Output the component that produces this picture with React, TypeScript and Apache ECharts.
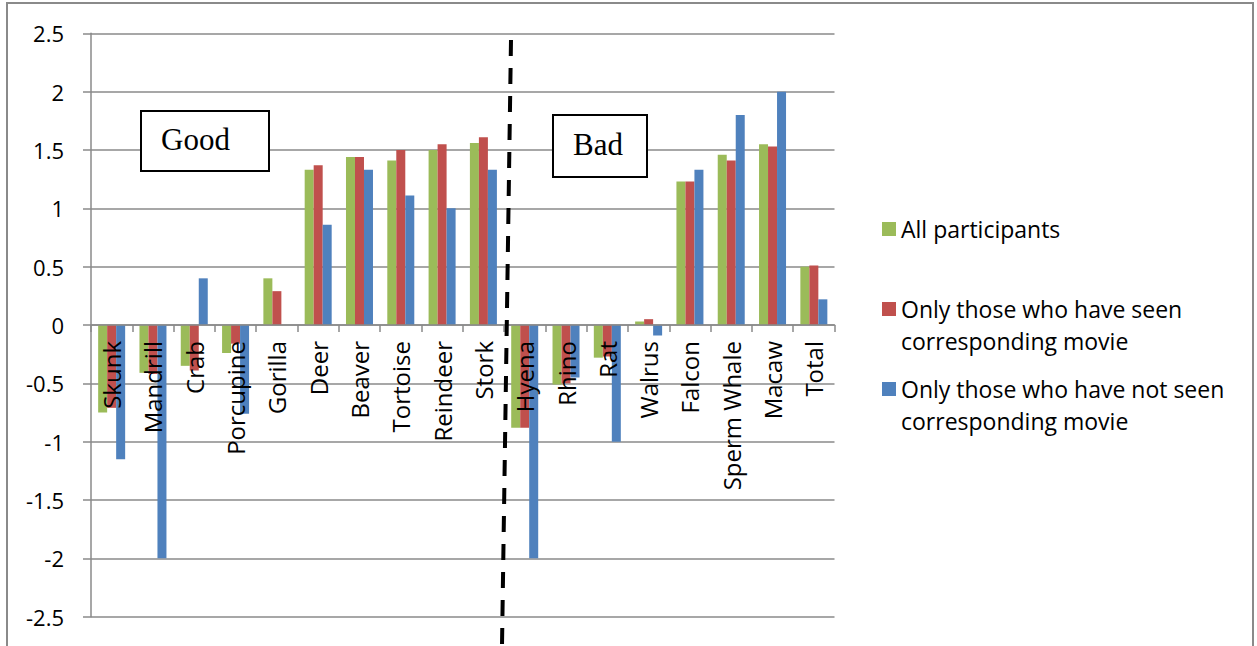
import React, { useEffect, useRef } from "react";
import * as echarts from "echarts";

// Categories along the x axis (animals, then the overall total)
const categories = [
  "Skunk", "Mandrill", "Crab", "Porcupine", "Gorilla", "Deer", "Beaver", "Tortoise",
  "Reindeer", "Stork", "Hyena", "Rhino", "Rat", "Walrus", "Falcon", "Sperm Whale",
  "Macaw", "Total",
];

const seriesNames = [
  "All participants",
  "Only those who have seen corresponding movie",
  "Only those who have not seen corresponding movie",
];

const allParticipants = [
  -0.75, -0.41, -0.35, -0.24, 0.4, 1.33, 1.44, 1.41, 1.5, 1.56,
  -0.88, -0.51, -0.28, 0.03, 1.23, 1.46, 1.55, 0.5,
];
const seenMovie = [
  -0.71, -0.42, -0.39, -0.16, 0.29, 1.37, 1.44, 1.5, 1.55, 1.61,
  -0.88, -0.5, -0.27, 0.05, 1.23, 1.41, 1.53, 0.51,
];
const notSeenMovie = [
  -1.15, -2.0, 0.4, -0.76, 0, 0.86, 1.33, 1.11, 1.0, 1.33,
  -2.0, -0.45, -1.0, -0.09, 1.33, 1.8, 2.0, 0.22,
];

// y range of the value axis
const yMin = -2.5;
const yMax = 2.5;
const yStep = 0.5;

const colors = ["#9BBB59", "#C0504D", "#4F81BD"];
const gray = "#8a8a8a";
const sans = '"Open Sans", "Noto Sans", sans-serif';
const serif = '"Liberation Serif", "DejaVu Serif", serif';

const W = 1257;
const H = 646;
const gridTop = 33.3;
const gridBottom = 29.3;

// Two-line legend entries: an empty first line keeps the marker beside the first text line
const legendText = (name: string) =>
  name.includes(" corresponding")
    ? " \n" + name.replace(" corresponding", "\ncorresponding")
    : name;

function makeLegend(name: string, top: number) {
  return {
    data: [{ name, icon: "rect" }],
    left: 882,
    top,
    padding: 0,
    itemWidth: 14,
    itemHeight: 14,
    selectedMode: false,
    formatter: legendText,
    textStyle: {
      fontFamily: sans,
      fontSize: 23,
      lineHeight: 32,
      color: "#000",
    },
  };
}

export default function App() {
  const ref = useRef<HTMLDivElement>(null);

  useEffect(() => {
    if (!ref.current) return;
    const chart = echarts.init(ref.current, undefined, { renderer: "svg" });
    const values = [allParticipants, seenMovie, notSeenMovie];

    // Category axis sits on the zero line: shift it up from the grid's bottom edge
    const plotHeight = H - gridTop - gridBottom;
    const zeroOffset = -plotHeight * ((0 - yMin) / (yMax - yMin));

    chart.setOption({
      animation: false,
      backgroundColor: "#fff",
      grid: {
        left: 91,
        right: 422.5,
        top: gridTop,
        bottom: gridBottom,
        containLabel: false,
        outerBoundsMode: "none",
      },
      legend: [
        makeLegend(seriesNames[0], 213),
        makeLegend(seriesNames[1], 261),
        makeLegend(seriesNames[2], 341),
      ],
      xAxis: {
        type: "category",
        data: categories,
        z: 10,
        offset: zeroOffset,
        axisLine: { show: true, onZero: false, lineStyle: { color: gray, width: 1.5 } },
        axisTick: { show: true, length: 7, lineStyle: { color: gray, width: 1.5 } },
        axisLabel: {
          interval: 0,
          rotate: 90,
          margin: 16,
          fontFamily: sans,
          fontSize: 24,
          color: "#000",
        },
        splitLine: { show: false },
      },
      yAxis: {
        type: "value",
        min: yMin,
        max: yMax,
        interval: yStep,
        axisLine: { show: true, lineStyle: { color: gray, width: 1.5 } },
        axisTick: { show: true, length: 8, lineStyle: { color: gray, width: 1.5 } },
        axisLabel: { margin: 27, fontFamily: sans, fontSize: 22, color: "#000" },
        splitLine: { show: true, lineStyle: { color: gray, width: 1.5 } },
      },
      series: seriesNames.map((name, i) => ({
        name,
        type: "bar",
        data: values[i],
        barWidth: 9,
        barGap: "0%",
        itemStyle: { color: colors[i] },
      })),
      graphic: [
        {
          type: "rect",
          silent: true,
          z: 1,
          shape: { x: 7, y: 3, width: 1246, height: 700 },
          style: { fill: "none", stroke: gray, lineWidth: 2 },
        },
        {
          type: "rect",
          z: 50,
          shape: { x: 141, y: 111, width: 128, height: 60 },
          style: { fill: "#fff", stroke: "#000", lineWidth: 2 },
        },
        {
          type: "text",
          z: 51,
          style: {
            text: "Good",
            x: 161,
            y: 139,
            fontFamily: serif,
            fontSize: 31,
            fill: "#000",
            verticalAlign: "middle",
          },
        },
        {
          type: "rect",
          z: 50,
          shape: { x: 553, y: 115, width: 94, height: 62 },
          style: { fill: "#fff", stroke: "#000", lineWidth: 2 },
        },
        {
          type: "text",
          z: 51,
          style: {
            text: "Bad",
            x: 573,
            y: 144,
            fontFamily: serif,
            fontSize: 31,
            fill: "#000",
            verticalAlign: "middle",
          },
        },
        {
          type: "line",
          z: 60,
          silent: true,
          shape: { x1: 511, y1: 40, x2: 502, y2: 646 },
          style: { stroke: "#000", lineWidth: 4, lineDash: [16, 12] },
        },
      ],
    });

    return () => chart.dispose();
  }, []);

  return (
    <div
      ref={ref}
      style={{ position: "fixed", left: 0, top: 0, width: W, height: H }}
    />
  );
}
